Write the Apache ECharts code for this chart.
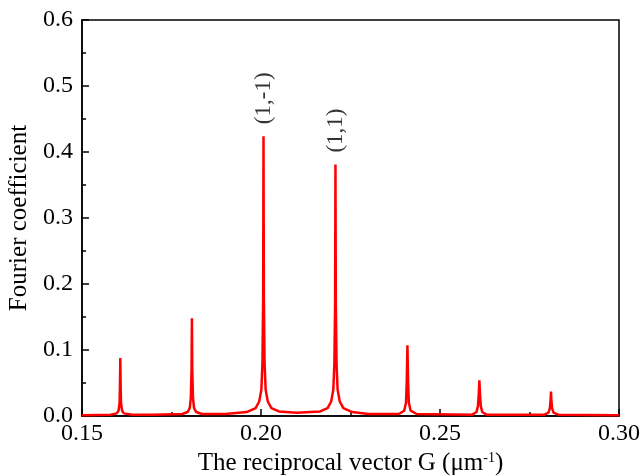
<!DOCTYPE html>
<html>
<head>
<meta charset="utf-8">
<script src="https://cdn.jsdelivr.net/npm/echarts@6/dist/echarts.min.js"></script>
<style>
  html, body { margin: 0; padding: 0; background: #fff; }
  #chart { width: 644px; height: 476px; }
</style>
</head>
<body>
<div id="chart"></div>
<script>
// Fourier spectrum sampled along the reciprocal vector G (μm^-1)
const G = [
  0.1500, 0.1580, 0.1597, 0.1602, 0.1605, 0.1606, 0.1607, 0.1608, 0.1609, 0.1612, 0.1617, 0.1640, 0.1700,
  0.1780, 0.1795, 0.1801, 0.1804, 0.1806, 0.1807, 0.1808, 0.1810, 0.1813, 0.1819, 0.1835,
  0.1900, 0.1960, 0.1985, 0.1995, 0.2001, 0.2004, 0.2006, 0.2007, 0.2008, 0.2010, 0.2013, 0.2019, 0.2029, 0.2050,
  0.2100, 0.2165, 0.2186, 0.2196, 0.2202, 0.2205, 0.2207, 0.2208, 0.2209, 0.2211, 0.2214, 0.2220, 0.2230, 0.2255, 0.2300,
  0.2385, 0.2400, 0.2405, 0.2407, 0.2409, 0.2411, 0.2413, 0.2418, 0.2435,
  0.2590, 0.2602, 0.2606, 0.2608, 0.2610, 0.2612, 0.2614, 0.2618, 0.2630,
  0.2792, 0.2803, 0.2807, 0.2809, 0.2810, 0.2811, 0.2813, 0.2817, 0.2830, 0.3000
];
const F = [
  0.001, 0.002, 0.004, 0.008, 0.020, 0.045, 0.088, 0.045, 0.020, 0.008, 0.004, 0.002, 0.002,
  0.003, 0.006, 0.012, 0.028, 0.070, 0.148, 0.070, 0.028, 0.012, 0.006, 0.003,
  0.003, 0.006, 0.012, 0.022, 0.040, 0.080, 0.180, 0.424, 0.180, 0.080, 0.040, 0.022, 0.012, 0.007,
  0.005, 0.007, 0.012, 0.022, 0.040, 0.080, 0.170, 0.381, 0.170, 0.080, 0.040, 0.022, 0.012, 0.006, 0.003,
  0.003, 0.008, 0.020, 0.050, 0.107, 0.050, 0.020, 0.008, 0.003,
  0.002, 0.006, 0.015, 0.030, 0.054, 0.030, 0.015, 0.006, 0.002,
  0.002, 0.005, 0.012, 0.025, 0.037, 0.025, 0.012, 0.005, 0.002, 0.001
];

// Labelled diffraction orders
const orderNames = ['(1,-1)', '(1,1)'];
const orderG = [0.2007, 0.2208];
const orderF = [0.424, 0.381];

const xTicks = { min: 0.15, max: 0.30, step: 0.05 };
const yTicks = { min: 0.0, max: 0.6, step: 0.1 };

const FONT = '"Liberation Serif", "Times New Roman", serif';

const chart = echarts.init(document.getElementById('chart'), null, { renderer: 'canvas' });

chart.setOption({
  animation: false,
  backgroundColor: '#ffffff',
  grid: {
    left: 82, right: 25, top: 20, bottom: 60,
    outerBoundsMode: 'none', containLabel: false,
    show: true, borderColor: '#000', borderWidth: 1.5, backgroundColor: 'transparent'
  },
  xAxis: {
    type: 'value',
    min: xTicks.min, max: xTicks.max, interval: xTicks.step,
    name: '{t|The reciprocal vector G (μm}{s|-1}{t|)}',
    nameLocation: 'middle', nameGap: 30,
    nameTextStyle: {
      rich: {
        t: { fontFamily: FONT, fontSize: 25, color: '#000' },
        s: { fontFamily: FONT, fontSize: 14, color: '#000', verticalAlign: 'top', padding: [0, 0, 10, 0] }
      }
    },
    axisLine: { lineStyle: { color: '#000', width: 1.5 } },
    axisTick: { inside: true, length: 7, lineStyle: { color: '#000', width: 1.5 } },
    minorTick: { show: true, splitNumber: 2, length: 4, lineStyle: { color: '#000', width: 1.5 } },
    splitLine: { show: false },
    axisLabel: {
      fontFamily: FONT, fontSize: 24, color: '#000', margin: 6,
      formatter: v => v.toFixed(2)
    }
  },
  yAxis: {
    type: 'value',
    min: yTicks.min, max: yTicks.max, interval: yTicks.step,
    name: 'Fourier coefficient',
    nameLocation: 'middle', nameGap: 50,
    nameTextStyle: { fontFamily: FONT, fontSize: 25, color: '#000' },
    axisLine: { lineStyle: { color: '#000', width: 1.5 } },
    axisTick: { inside: true, length: 7, lineStyle: { color: '#000', width: 1.5 } },
    minorTick: { show: true, splitNumber: 2, length: 4, lineStyle: { color: '#000', width: 1.5 } },
    splitLine: { show: false },
    axisLabel: {
      fontFamily: FONT, fontSize: 24, color: '#000', margin: 9,
      formatter: v => v.toFixed(1)
    }
  },
  series: [
    {
      type: 'line',
      data: G.map((g, i) => [g, F[i]]),
      showSymbol: false,
      lineStyle: { color: '#ff0000', width: 2.5 },
      z: 3
    },
    {
      type: 'scatter',
      data: orderG.map((g, i) => ({ value: [g, orderF[i]], name: orderNames[i] })),
      symbolSize: 0,
      label: {
        show: true, position: 'top', distance: 12,
        rotate: 90, align: 'left', verticalAlign: 'middle',
        formatter: p => p.name,
        fontFamily: FONT, fontSize: 23, color: '#000'
      },
      z: 4
    }
  ]
});
</script>
</body>
</html>
